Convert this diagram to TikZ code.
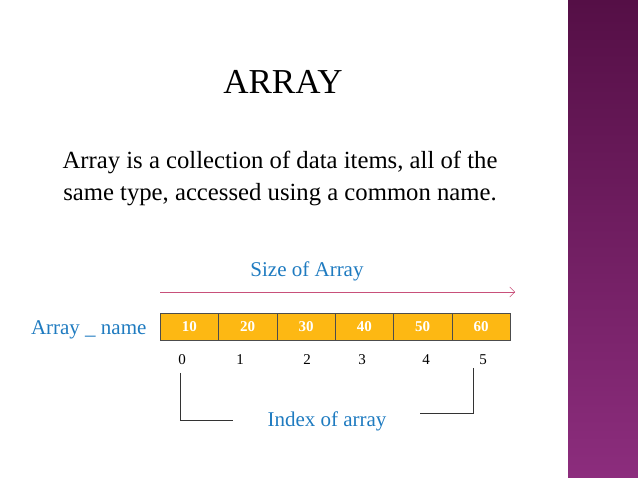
\documentclass[tikz,border=0pt]{standalone}
\usepackage{fontspec}
\setmainfont{Liberation Serif}
\usetikzlibrary{arrows.meta}
\definecolor{lbl}{HTML}{1F7BC0}
\definecolor{cellc}{HTML}{FDB813}
\definecolor{arr}{HTML}{C8507A}
\definecolor{ptop}{RGB}{85,15,70}
\definecolor{pbot}{RGB}{140,45,125}
\tikzset{cell/.style={draw=black!70,fill=cellc,minimum width=58.33pt,minimum height=27pt,inner sep=0pt,text=white,font=\fontsize{15}{15}\selectfont\bfseries,anchor=west},
idx/.style={font=\fontsize{15}{15}\selectfont},
lblue/.style={text=lbl,font=\fontsize{21}{21}\selectfont}}
\begin{document}
\begin{tikzpicture}[x=1pt,y=-1pt]
\useasboundingbox (0,0) rectangle (638,478);
\shade[top color=ptop,bottom color=pbot] (568,0) rectangle (638,478);
\node (title) at (283,82) {\fontsize{35}{35}\selectfont ARRAY};
\node[align=center,font=\fontsize{24.7}{32}\selectfont] (desc) at (280,178) {Array is a collection of data items, all of the\\same type, accessed using a common name.};
\node[lblue] (size) at (307,271) {Size of Array};
\coordinate (a0) at (160,292); \coordinate (a1) at (515,292);
\draw[arr,-{Straight Barb[length=5pt]}] (a0) -- (a1);
\node[lblue,anchor=east] (name) at (150,330) {Array \_ name};
\foreach \v [count=\i from 0] in {10,20,30,40,50,60}
  \node[cell] (c\i) at (160+\i*58.33,327) {\v};
\foreach \x [count=\i from 0] in {182,240,307,362,426,483}
  \node[idx] (i\i) at (\x,360) {\i};
\node[lblue] (index) at (327,421) {Index of array};
\coordinate (l1) at (180,373); \coordinate (l2) at (180,420); \coordinate (l3) at (233,420);
\coordinate (r1) at (473,368); \coordinate (r2) at (473,413); \coordinate (r3) at (420,413);
\draw[black!80] (l1) -- (l2) -- (l3);
\draw[black!80] (r1) -- (r2) -- (r3);
\end{tikzpicture}
\end{document}
